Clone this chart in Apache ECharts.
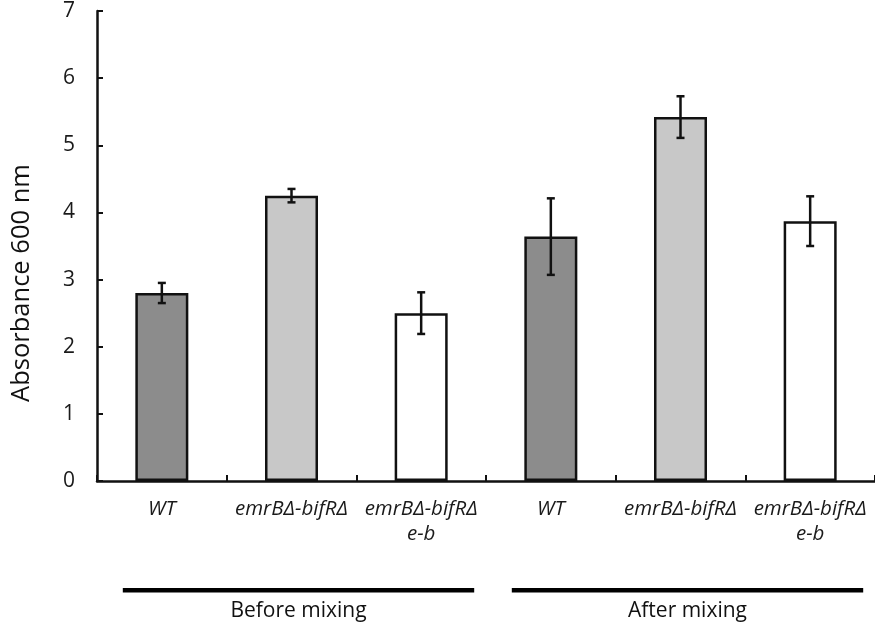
<!DOCTYPE html>
<html><head><meta charset="utf-8">
<script src="https://cdn.jsdelivr.net/npm/echarts@6/dist/echarts.min.js"></script>
<style>html,body{margin:0;padding:0;background:#fff}#c{width:875px;height:630px}</style>
</head><body><div id="c"></div>
<script>
const categories = ['WT', 'emrBΔ-bifRΔ', 'emrBΔ-bifRΔ\ne-b', 'WT', 'emrBΔ-bifRΔ', 'emrBΔ-bifRΔ\ne-b'];
const values = [2.80, 4.25, 2.50, 3.64, 5.42, 3.87];
const errors = [0.15, 0.10, 0.31, 0.57, 0.31, 0.37];
const barColors = ['#8c8c8c', '#c8c8c8', '#ffffff', '#8c8c8c', '#c8c8c8', '#ffffff'];
const yTicks = [0, 1, 2, 3, 4, 5, 6, 7];
const groups = [
  { label: 'Before mixing', from: 0, to: 2 },
  { label: 'After mixing', from: 3, to: 5 }
];
const yName = 'Absorbance 600 nm';

const FONT = '"Open Sans", Lato, sans-serif';
const chart = echarts.init(document.getElementById('c'), null, { renderer: 'canvas' });

const option = {
  animation: false,
  backgroundColor: '#fff',
  grid: { left: 97, top: 11, width: 786, height: 470, containLabel: false },
  xAxis: {
    type: 'category',
    data: categories,
    boundaryGap: true,
    axisLine: { lineStyle: { color: '#111', width: 2.5 } },
    axisTick: { show: true, inside: true, length: 6, lineStyle: { color: '#111', width: 2 } },
    axisLabel: { margin: 16, fontFamily: FONT, fontStyle: 'italic', fontSize: 20.5, color: '#1a1a1a', lineHeight: 25, interval: 0 },
    splitLine: { show: false }
  },
  yAxis: {
    type: 'value',
    min: yTicks[0], max: yTicks[yTicks.length - 1], interval: 1,
    axisLine: { show: true, lineStyle: { color: '#111', width: 2.5 } },
    axisTick: { show: true, inside: true, length: 6, lineStyle: { color: '#111', width: 2 } },
    axisLabel: { margin: 22, fontFamily: FONT, fontSize: 21, color: '#1a1a1a' },
    splitLine: { show: false }
  },
  series: [
    {
      type: 'bar',
      barWidth: 53,
      data: values.map((v, i) => ({ value: v, itemStyle: { color: barColors[i] } })),
      itemStyle: { borderColor: '#111', borderWidth: 2.5 },
      z: 2
    },
    {
      type: 'custom',
      z: 5,
      data: values.map((v, i) => [i, v, errors[i]]),
      renderItem: function (params, api) {
        const x = api.value(0), v = api.value(1), e = api.value(2);
        const top = api.coord([x, v + e]);
        const bot = api.coord([x, v - e]);
        const cap = 4;
        const st = { stroke: '#111', lineWidth: 2.5 };
        return {
          type: 'group',
          children: [
            { type: 'line', shape: { x1: top[0], y1: top[1], x2: bot[0], y2: bot[1] }, style: st },
            { type: 'line', shape: { x1: top[0] - cap, y1: top[1], x2: top[0] + cap, y2: top[1] }, style: st },
            { type: 'line', shape: { x1: bot[0] - cap, y1: bot[1], x2: bot[0] + cap, y2: bot[1] }, style: st }
          ]
        };
      }
    }
  ]
};
chart.setOption(option);

const c0 = chart.convertToPixel({ xAxisIndex: 0 }, 0);
const c1 = chart.convertToPixel({ xAxisIndex: 0 }, 1);
const bw = c1 - c0;
const yBase = chart.convertToPixel({ yAxisIndex: 0 }, 0);
const gfx = [];
groups.forEach(g => {
  const a = chart.convertToPixel({ xAxisIndex: 0 }, g.from);
  const b = chart.convertToPixel({ xAxisIndex: 0 }, g.to);
  const mid = (a + b) / 2 + 7;
  const half = bw * 1.355;
  gfx.push({ type: 'rect', shape: { x: mid - half, y: yBase + 107, width: half * 2, height: 4.5 }, style: { fill: '#000' } });
  gfx.push({ type: 'text', x: mid, y: yBase + 130, style: { text: g.label, fontFamily: FONT, fontSize: 21, fill: '#111', textAlign: 'center', textVerticalAlign: 'middle' } });
});
gfx.push({
  type: 'text', x: 22, y: 283, rotation: Math.PI / 2,
  style: { text: yName, fontFamily: FONT, fontSize: 25.5, fill: '#111', textAlign: 'center', textVerticalAlign: 'middle' }
});
chart.setOption({ graphic: gfx });
</script>
</body></html>
